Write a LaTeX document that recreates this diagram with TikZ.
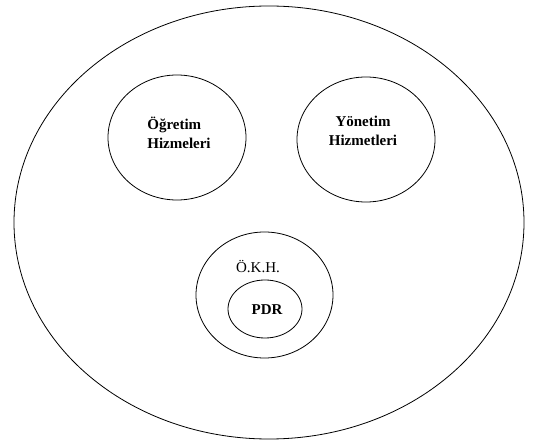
\documentclass[tikz,border=0pt]{standalone}
\usepackage{fontspec}
\setmainfont{Liberation Serif}
\usetikzlibrary{positioning, shapes.geometric}

\begin{document}
\begin{tikzpicture}[x=1pt, y=-1pt,
    every node/.style={font=\fontsize{15}{19}\selectfont},
    ring/.style={draw, ellipse, inner sep=0pt, line width=0.8pt}]
    \useasboundingbox (0,0) rectangle (541,443);
    \node [ring, minimum width=510pt, minimum height=433pt] (okul) at (269,222.5) {};
    \node [ring, minimum width=138pt, minimum height=125pt] (ogretim) at (177,137.5) {};
    \node [ring, minimum width=138pt, minimum height=125pt] (yonetim) at (366,139.5) {};
    \node [ring, minimum width=137pt, minimum height=126pt] (okh) at (264.5,295) {};
    \node [ring, minimum width=74pt, minimum height=58pt] (pdr) at (265,309) {};
    \node [align=left, font=\fontsize{15}{19}\selectfont\bfseries] (ogretimText) at (179,133) {Öğretim\\Hizmeleri};
    \node [align=center, font=\fontsize{15}{19}\selectfont\bfseries] (yonetimText) at (363,131) {Yönetim\\Hizmetleri};
    \node (okhText) at (258,267) {Ö.K.H.};
    \node [font=\fontsize{15}{19}\selectfont\bfseries] (pdrText) at (267,310) {PDR};
\end{tikzpicture}
\end{document}
